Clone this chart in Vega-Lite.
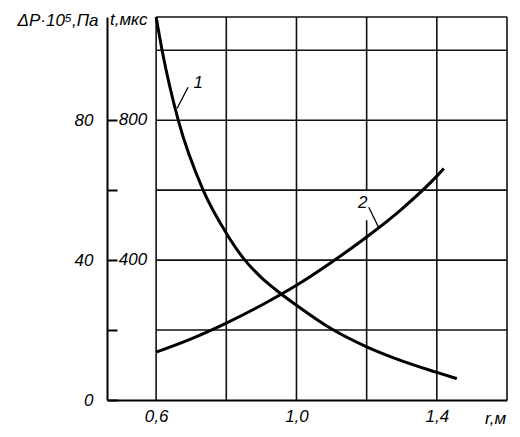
{
  "$schema": "https://vega.github.io/schema/vega-lite/v6.json",
  "width": 400,
  "height": 383,
  "autosize": {"type": "none"},
  "padding": {"left": 107, "top": 17, "right": 13, "bottom": 37},
  "background": "white",
  "config": {"view": {"stroke": null}, "font": "Liberation Sans"},
  "datasets": {
    "gridV": [
      {"r": 0.6, "v0": 0, "v1": 1095},
      {"r": 0.8, "v0": 0, "v1": 1095},
      {"r": 1.0, "v0": 0, "v1": 1095},
      {"r": 1.2, "v0": 0, "v1": 514},
      {"r": 1.2, "v0": 600, "v1": 1095},
      {"r": 1.4, "v0": 0, "v1": 1095},
      {"r": 1.6, "v0": 0, "v1": 1095}
    ],
    "gridH": [
      {"v": 200, "r0": 0.6, "r1": 1.6},
      {"v": 400, "r0": 0.6, "r1": 1.6},
      {"v": 600, "r0": 0.6, "r1": 1.6},
      {"v": 800, "r0": 0.6, "r1": 1.6},
      {"v": 1000, "r0": 0.6, "r1": 1.6},
      {"v": 1095, "r0": 0.6, "r1": 1.6}
    ],
    "curves": [
      {"curve": "1", "r": 0.600, "v": 1095},
      {"curve": "1", "r": 0.617, "v": 1000},
      {"curve": "1", "r": 0.663, "v": 800},
      {"curve": "1", "r": 0.734, "v": 600},
      {"curve": "1", "r": 0.800, "v": 477},
      {"curve": "1", "r": 0.849, "v": 405},
      {"curve": "1", "r": 0.900, "v": 350},
      {"curve": "1", "r": 0.940, "v": 316},
      {"curve": "1", "r": 1.000, "v": 271},
      {"curve": "1", "r": 1.097, "v": 205},
      {"curve": "1", "r": 1.200, "v": 152},
      {"curve": "1", "r": 1.300, "v": 112},
      {"curve": "1", "r": 1.400, "v": 79},
      {"curve": "1", "r": 1.457, "v": 61},
      {"curve": "2", "r": 0.600, "v": 137},
      {"curve": "2", "r": 0.700, "v": 175},
      {"curve": "2", "r": 0.800, "v": 220},
      {"curve": "2", "r": 0.900, "v": 271},
      {"curve": "2", "r": 1.000, "v": 328},
      {"curve": "2", "r": 1.100, "v": 394},
      {"curve": "2", "r": 1.200, "v": 466},
      {"curve": "2", "r": 1.300, "v": 546},
      {"curve": "2", "r": 1.400, "v": 640},
      {"curve": "2", "r": 1.420, "v": 662}
    ],
    "leaders": [
      {"r0": 0.660, "v0": 834, "r1": 0.691, "v1": 894},
      {"r0": 1.206, "v0": 551, "r1": 1.234, "v1": 494}
    ],
    "curveLabels": [
      {"r": 0.72, "v": 906, "text": "1"},
      {"r": 1.189, "v": 563, "text": "2"}
    ],
    "innerLabels": [
      {"r": 0.6, "v": 800, "text": "800"},
      {"r": 0.6, "v": 400, "text": "400"}
    ],
    "unitLabel": [
      {"r": 0.46, "v": 1095, "text": "t,мкс"}
    ]
  },
  "layer": [
    {
      "data": {"name": "gridV"},
      "mark": {"type": "rule", "color": "#111", "strokeWidth": 1.6},
      "encoding": {
        "x": {
          "field": "r", "type": "quantitative",
          "scale": {"domain": [0.46, 1.6], "nice": false, "zero": false},
          "axis": {
            "values": [0.6, 1.0, 1.4],
            "labelExpr": "replace(format(datum.value,'.1f'),'.',',')",
            "ticks": false, "grid": false,
            "domainColor": "#000", "domainWidth": 2,
            "labelFont": "Liberation Sans", "labelFontStyle": "italic",
            "labelFontSize": 17, "labelColor": "#000", "labelPadding": 8,
            "labelFlush": false,
            "title": "r,м", "titleX": 388, "titleY": 23,
            "titleBaseline": "alphabetic", "titleAlign": "center",
            "titleFont": "Liberation Sans", "titleFontStyle": "italic",
            "titleFontWeight": "normal", "titleFontSize": 17, "titleColor": "#000"
          }
        },
        "y": {
          "field": "v0", "type": "quantitative",
          "scale": {"domain": [0, 1095], "nice": false},
          "axis": {
            "values": [0, 200, 400, 600, 800],
            "labelExpr": "datum.value==0?'0':datum.value==400?'40':datum.value==800?'80':''",
            "tickSize": -10, "tickColor": "#000", "tickWidth": 2,
            "domainColor": "#000", "domainWidth": 2, "grid": false,
            "labelFont": "Liberation Sans", "labelFontStyle": "italic",
            "labelFontSize": 17, "labelColor": "#000", "labelPadding": 24,
            "title": "ΔP·10⁵,Па", "titleAngle": 0, "titleX": -9, "titleY": 3,
            "titleAlign": "right", "titleBaseline": "middle",
            "titleFont": "Liberation Sans", "titleFontStyle": "italic",
            "titleFontWeight": "normal", "titleFontSize": 17, "titleColor": "#000"
          }
        },
        "y2": {"field": "v1"}
      }
    },
    {
      "data": {"name": "gridH"},
      "mark": {"type": "rule", "color": "#111", "strokeWidth": 1.6},
      "encoding": {
        "y": {"field": "v", "type": "quantitative"},
        "x": {"field": "r0", "type": "quantitative"},
        "x2": {"field": "r1"}
      }
    },
    {
      "data": {"name": "curves"},
      "mark": {"type": "line", "color": "#000", "strokeWidth": 3, "interpolate": "monotone"},
      "encoding": {
        "x": {"field": "r", "type": "quantitative"},
        "y": {"field": "v", "type": "quantitative"},
        "detail": {"field": "curve"}
      }
    },
    {
      "data": {"name": "leaders"},
      "mark": {"type": "rule", "color": "#000", "strokeWidth": 1.3},
      "encoding": {
        "x": {"field": "r0", "type": "quantitative"},
        "y": {"field": "v0", "type": "quantitative"},
        "x2": {"field": "r1"},
        "y2": {"field": "v1"}
      }
    },
    {
      "data": {"name": "curveLabels"},
      "mark": {"type": "text", "font": "Liberation Sans", "fontStyle": "italic", "fontSize": 17, "color": "#000", "align": "center", "baseline": "middle"},
      "encoding": {
        "x": {"field": "r", "type": "quantitative"},
        "y": {"field": "v", "type": "quantitative"},
        "text": {"field": "text"}
      }
    },
    {
      "data": {"name": "innerLabels"},
      "mark": {"type": "text", "font": "Liberation Sans", "fontStyle": "italic", "fontSize": 17, "color": "#000", "align": "right", "baseline": "middle", "dx": -9},
      "encoding": {
        "x": {"field": "r", "type": "quantitative"},
        "y": {"field": "v", "type": "quantitative"},
        "text": {"field": "text"}
      }
    },
    {
      "data": {"name": "unitLabel"},
      "mark": {"type": "text", "font": "Liberation Sans", "fontStyle": "italic", "fontSize": 17, "color": "#000", "align": "left", "baseline": "middle", "dx": 3, "dy": 3},
      "encoding": {
        "x": {"field": "r", "type": "quantitative"},
        "y": {"field": "v", "type": "quantitative"},
        "text": {"field": "text"}
      }
    }
  ]
}
